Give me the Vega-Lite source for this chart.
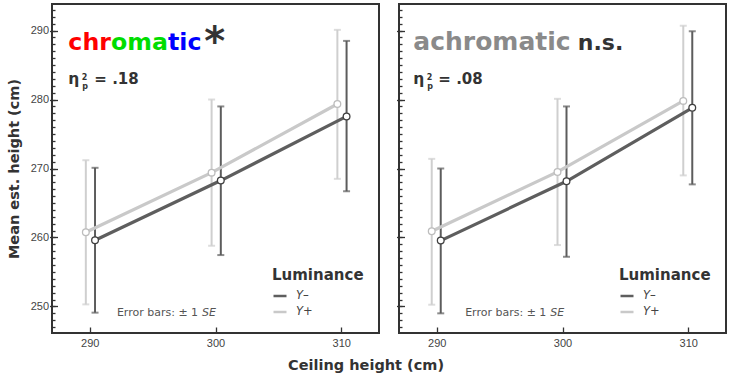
{
  "$schema": "https://vega.github.io/schema/vega-lite/v6.json",
  "background": "white",
  "padding": {"left": 5, "top": 3, "right": 4, "bottom": 4},
  "spacing": 14,
  "title": {"text": "Ceiling height (cm)", "orient": "bottom", "anchor": "middle", "font": "DejaVu Sans", "fontSize": 14.5, "fontWeight": "bold", "color": "#333", "offset": 10},
  "datasets": {
    "means": [
      {"panel": "chromatic", "lum": "Y–", "ceiling": 290, "mean": 259.6, "lo": 249.1, "hi": 270.1},
      {"panel": "chromatic", "lum": "Y–", "ceiling": 300, "mean": 268.25, "lo": 257.45, "hi": 279.0},
      {"panel": "chromatic", "lum": "Y–", "ceiling": 310, "mean": 277.55, "lo": 266.7, "hi": 288.5},
      {"panel": "chromatic", "lum": "Y+", "ceiling": 290, "mean": 260.75, "lo": 250.3, "hi": 271.2},
      {"panel": "chromatic", "lum": "Y+", "ceiling": 300, "mean": 269.4, "lo": 258.8, "hi": 280.0},
      {"panel": "chromatic", "lum": "Y+", "ceiling": 310, "mean": 279.35, "lo": 268.5, "hi": 290.1},
      {"panel": "achromatic", "lum": "Y–", "ceiling": 290, "mean": 259.55, "lo": 249.0, "hi": 270.0},
      {"panel": "achromatic", "lum": "Y–", "ceiling": 300, "mean": 268.15, "lo": 257.2, "hi": 279.0},
      {"panel": "achromatic", "lum": "Y–", "ceiling": 310, "mean": 278.8, "lo": 267.7, "hi": 289.9},
      {"panel": "achromatic", "lum": "Y+", "ceiling": 290, "mean": 260.9, "lo": 250.25, "hi": 271.4},
      {"panel": "achromatic", "lum": "Y+", "ceiling": 300, "mean": 269.5, "lo": 258.9, "hi": 280.1},
      {"panel": "achromatic", "lum": "Y+", "ceiling": 310, "mean": 279.8, "lo": 269.0, "hi": 290.7}
    ]
  },
  "hconcat": [
    {
      "width": 327,
      "height": 329,
      "data": {"name": "means"},
      "resolve": {"axis": {"y": "independent"}},
      "layer": [
        {
          "transform": [{"filter": "datum.panel === 'chromatic' && datum.lum === 'Y+'"}],
          "mark": {"type": "errorbar", "color": "#cfcfcf", "thickness": 2, "ticks": {"size": 7, "xOffset": -3.9}, "rule": {"xOffset": -3.9}},
          "encoding": {
            "x": {"field": "ceiling", "type": "quantitative", "title": null, "scale": {"domain": [287, 313], "nice": false, "zero": false}},
            "y": {"field": "lo", "type": "quantitative", "axis": null, "scale": {"domain": [246.15, 293.85], "nice": false, "zero": false}},
            "y2": {"field": "hi"}
          }
        },
        {
          "transform": [{"filter": "datum.panel === 'chromatic' && datum.lum === 'Y–'"}],
          "mark": {"type": "errorbar", "color": "#5c5c5c", "thickness": 2, "ticks": {"size": 7, "xOffset": 5.3}, "rule": {"xOffset": 5.3}},
          "encoding": {
            "x": {"field": "ceiling", "type": "quantitative", "title": null},
            "y": {"field": "lo", "type": "quantitative", "axis": null},
            "y2": {"field": "hi"}
          }
        },
        {
          "transform": [{"filter": "datum.panel === 'chromatic' && datum.lum === 'Y+'"}],
          "mark": {"type": "line", "strokeWidth": 3.2, "xOffset": -3.9},
          "encoding": {
            "x": {"field": "ceiling", "type": "quantitative", "title": null, "axis": {"values": [290, 300, 310], "tickSize": 6, "offset": -6, "labelPadding": 4}},
            "y": {"field": "mean", "type": "quantitative", "title": "Mean est. height (cm)", "axis": {
              "orient": "left", "titlePadding": 9,
              "values": [250, 260, 270, 280, 290],
              "tickSize": 8, "offset": -5.5, "labelPadding": 1
            }},
            "color": {"field": "lum", "type": "nominal", "scale": {"domain": ["Y–", "Y+"], "range": ["#5e5e5e", "#c9c9c9"]}, "legend": {"title": "Luminance"}}
          }
        },
        {
          "transform": [{"filter": "datum.panel === 'chromatic' && datum.lum === 'Y–'"}],
          "mark": {"type": "line", "strokeWidth": 3.2, "xOffset": 5.3},
          "encoding": {
            "x": {"field": "ceiling", "type": "quantitative", "title": null},
            "y": {"field": "mean", "type": "quantitative", "axis": {
              "orient": "left", "title": null, "labels": false,
              "values": [247,248,249,250,251,252,253,254,255,256,257,258,259,260,261,262,263,264,265,266,267,268,269,270,271,272,273,274,275,276,277,278,279,280,281,282,283,284,285,286,287,288,289,290,291,292,293],
              "tickSize": 3, "offset": -3
            }},
            "color": {"field": "lum", "type": "nominal"}
          }
        },
        {
          "transform": [{"filter": "datum.panel === 'chromatic' && datum.lum === 'Y+'"}],
          "mark": {"type": "point", "shape": "circle", "filled": true, "fill": "white", "stroke": "#bdbdbd", "strokeWidth": 1.3, "size": 45, "opacity": 1, "xOffset": -3.9},
          "encoding": {
            "x": {"field": "ceiling", "type": "quantitative", "title": null},
            "y": {"field": "mean", "type": "quantitative", "axis": null}
          }
        },
        {
          "transform": [{"filter": "datum.panel === 'chromatic' && datum.lum === 'Y–'"}],
          "mark": {"type": "point", "shape": "circle", "filled": true, "fill": "white", "stroke": "#404040", "strokeWidth": 1.3, "size": 45, "opacity": 1, "xOffset": 5.3},
          "encoding": {
            "x": {"field": "ceiling", "type": "quantitative", "title": null},
            "y": {"field": "mean", "type": "quantitative", "axis": null}
          }
        },
        {
          "data": {"values": [{}]},
          "mark": {"type": "text", "text": "chr", "font": "DejaVu Sans", "fontWeight": "bold", "fontSize": 23.7, "color": "#ff0000", "align": "left", "baseline": "alphabetic"},
          "encoding": {"x": {"datum": 288.3, "type": "quantitative", "title": null}, "y": {"datum": 287.2, "type": "quantitative", "axis": null}}
        },
        {
          "data": {"values": [{}]},
          "mark": {"type": "text", "text": "oma", "font": "DejaVu Sans", "fontWeight": "bold", "fontSize": 23.7, "color": "#00dd00", "align": "left", "baseline": "alphabetic", "dx": 42.6},
          "encoding": {"x": {"datum": 288.3, "type": "quantitative", "title": null}, "y": {"datum": 287.2, "type": "quantitative", "axis": null}}
        },
        {
          "data": {"values": [{}]},
          "mark": {"type": "text", "text": "tic", "font": "DejaVu Sans", "fontWeight": "bold", "fontSize": 23.7, "color": "#0000ff", "align": "left", "baseline": "alphabetic", "dx": 99.6},
          "encoding": {"x": {"datum": 288.3, "type": "quantitative", "title": null}, "y": {"datum": 287.2, "type": "quantitative", "axis": null}}
        },
        {
          "data": {"values": [{}]},
          "mark": {"type": "text", "text": "*", "font": "DejaVu Sans", "fontWeight": "bold", "fontSize": 40, "color": "#333333", "align": "left", "baseline": "alphabetic", "dx": 136, "dy": 5},
          "encoding": {"x": {"datum": 288.3, "type": "quantitative", "title": null}, "y": {"datum": 287.2, "type": "quantitative", "axis": null}}
        },
        {
          "data": {"values": [{}]},
          "mark": {"type": "text", "text": "η", "font": "DejaVu Sans", "fontWeight": "bold", "fontSize": 15.5, "color": "#333333", "align": "left", "baseline": "alphabetic"},
          "encoding": {"x": {"datum": 288.3, "type": "quantitative", "title": null}, "y": {"datum": 282.27, "type": "quantitative", "axis": null}}
        },
        {
          "data": {"values": [{}]},
          "mark": {"type": "text", "text": "2", "font": "DejaVu Sans", "fontWeight": "bold", "fontSize": 8, "color": "#333333", "align": "left", "baseline": "alphabetic", "dx": 13.3, "dy": -4.3},
          "encoding": {"x": {"datum": 288.3, "type": "quantitative", "title": null}, "y": {"datum": 282.27, "type": "quantitative", "axis": null}}
        },
        {
          "data": {"values": [{}]},
          "mark": {"type": "text", "text": "p", "font": "DejaVu Sans", "fontWeight": "bold", "fontSize": 8, "color": "#333333", "align": "left", "baseline": "alphabetic", "dx": 14, "dy": 5.5},
          "encoding": {"x": {"datum": 288.3, "type": "quantitative", "title": null}, "y": {"datum": 282.27, "type": "quantitative", "axis": null}}
        },
        {
          "data": {"values": [{}]},
          "mark": {"type": "text", "text": "= .18", "font": "DejaVu Sans", "fontWeight": "bold", "fontSize": 15, "color": "#333333", "align": "left", "baseline": "alphabetic", "dx": 26},
          "encoding": {"x": {"datum": 288.3, "type": "quantitative", "title": null}, "y": {"datum": 282.27, "type": "quantitative", "axis": null}}
        },
        {
          "data": {"values": [{}]},
          "mark": {"type": "text", "text": "Error bars: ± 1", "font": "DejaVu Sans", "fontSize": 11, "color": "#555555", "align": "left", "baseline": "middle"},
          "encoding": {"x": {"datum": 292.16, "type": "quantitative", "title": null}, "y": {"datum": 249.09, "type": "quantitative", "axis": null}}
        },
        {
          "data": {"values": [{}]},
          "mark": {"type": "text", "text": "SE", "font": "DejaVu Sans", "fontSize": 11, "fontStyle": "italic", "color": "#555555", "align": "left", "baseline": "middle", "dx": 85},
          "encoding": {"x": {"datum": 292.16, "type": "quantitative", "title": null}, "y": {"datum": 249.09, "type": "quantitative", "axis": null}}
        }
      ]
    },
    {
      "width": 327,
      "height": 329,
      "data": {"name": "means"},
      "resolve": {"axis": {"y": "independent"}},
      "layer": [
        {
          "transform": [{"filter": "datum.panel === 'achromatic' && datum.lum === 'Y+'"}],
          "mark": {"type": "errorbar", "color": "#cfcfcf", "thickness": 2, "ticks": {"size": 7, "xOffset": -5}, "rule": {"xOffset": -5}},
          "encoding": {
            "x": {"field": "ceiling", "type": "quantitative", "title": null, "scale": {"domain": [287, 313], "nice": false, "zero": false}},
            "y": {"field": "lo", "type": "quantitative", "axis": null, "scale": {"domain": [246.15, 293.85], "nice": false, "zero": false}},
            "y2": {"field": "hi"}
          }
        },
        {
          "transform": [{"filter": "datum.panel === 'achromatic' && datum.lum === 'Y–'"}],
          "mark": {"type": "errorbar", "color": "#5c5c5c", "thickness": 2, "ticks": {"size": 7, "xOffset": 4}, "rule": {"xOffset": 4}},
          "encoding": {
            "x": {"field": "ceiling", "type": "quantitative", "title": null},
            "y": {"field": "lo", "type": "quantitative", "axis": null},
            "y2": {"field": "hi"}
          }
        },
        {
          "transform": [{"filter": "datum.panel === 'achromatic' && datum.lum === 'Y+'"}],
          "mark": {"type": "line", "strokeWidth": 3.2, "xOffset": -5},
          "encoding": {
            "x": {"field": "ceiling", "type": "quantitative", "title": null, "axis": {"values": [290, 300, 310], "tickSize": 6, "offset": -6, "labelPadding": 4}},
            "y": {"field": "mean", "type": "quantitative", "title": null, "axis": {
              "orient": "left", "labels": false,
              "values": [250, 260, 270, 280, 290],
              "tickSize": 8, "offset": -5.5
            }},
            "color": {"field": "lum", "type": "nominal", "scale": {"domain": ["Y–", "Y+"], "range": ["#5e5e5e", "#c9c9c9"]}, "legend": {"title": "Luminance"}}
          }
        },
        {
          "transform": [{"filter": "datum.panel === 'achromatic' && datum.lum === 'Y–'"}],
          "mark": {"type": "line", "strokeWidth": 3.2, "xOffset": 4},
          "encoding": {
            "x": {"field": "ceiling", "type": "quantitative", "title": null},
            "y": {"field": "mean", "type": "quantitative", "axis": {
              "orient": "left", "title": null, "labels": false,
              "values": [247,248,249,250,251,252,253,254,255,256,257,258,259,260,261,262,263,264,265,266,267,268,269,270,271,272,273,274,275,276,277,278,279,280,281,282,283,284,285,286,287,288,289,290,291,292,293],
              "tickSize": 3, "offset": -3
            }},
            "color": {"field": "lum", "type": "nominal"}
          }
        },
        {
          "transform": [{"filter": "datum.panel === 'achromatic' && datum.lum === 'Y+'"}],
          "mark": {"type": "point", "shape": "circle", "filled": true, "fill": "white", "stroke": "#bdbdbd", "strokeWidth": 1.3, "size": 45, "opacity": 1, "xOffset": -5},
          "encoding": {
            "x": {"field": "ceiling", "type": "quantitative", "title": null},
            "y": {"field": "mean", "type": "quantitative", "axis": null}
          }
        },
        {
          "transform": [{"filter": "datum.panel === 'achromatic' && datum.lum === 'Y–'"}],
          "mark": {"type": "point", "shape": "circle", "filled": true, "fill": "white", "stroke": "#404040", "strokeWidth": 1.3, "size": 45, "opacity": 1, "xOffset": 4},
          "encoding": {
            "x": {"field": "ceiling", "type": "quantitative", "title": null},
            "y": {"field": "mean", "type": "quantitative", "axis": null}
          }
        },
        {
          "data": {"values": [{}]},
          "mark": {"type": "text", "text": "achromatic", "font": "DejaVu Sans", "fontWeight": "bold", "fontSize": 25, "color": "#8a8a8a", "align": "left", "baseline": "alphabetic"},
          "encoding": {"x": {"datum": 288.14, "type": "quantitative", "title": null}, "y": {"datum": 287.2, "type": "quantitative", "axis": null}}
        },
        {
          "data": {"values": [{}]},
          "mark": {"type": "text", "text": "n.s.", "font": "DejaVu Sans", "fontWeight": "bold", "fontSize": 22, "color": "#333333", "align": "left", "baseline": "alphabetic", "dx": 164.5},
          "encoding": {"x": {"datum": 288.14, "type": "quantitative", "title": null}, "y": {"datum": 287.2, "type": "quantitative", "axis": null}}
        },
        {
          "data": {"values": [{}]},
          "mark": {"type": "text", "text": "η", "font": "DejaVu Sans", "fontWeight": "bold", "fontSize": 15.5, "color": "#333333", "align": "left", "baseline": "alphabetic"},
          "encoding": {"x": {"datum": 288.14, "type": "quantitative", "title": null}, "y": {"datum": 282.27, "type": "quantitative", "axis": null}}
        },
        {
          "data": {"values": [{}]},
          "mark": {"type": "text", "text": "2", "font": "DejaVu Sans", "fontWeight": "bold", "fontSize": 8, "color": "#333333", "align": "left", "baseline": "alphabetic", "dx": 13.3, "dy": -4.3},
          "encoding": {"x": {"datum": 288.14, "type": "quantitative", "title": null}, "y": {"datum": 282.27, "type": "quantitative", "axis": null}}
        },
        {
          "data": {"values": [{}]},
          "mark": {"type": "text", "text": "p", "font": "DejaVu Sans", "fontWeight": "bold", "fontSize": 8, "color": "#333333", "align": "left", "baseline": "alphabetic", "dx": 14, "dy": 5.5},
          "encoding": {"x": {"datum": 288.14, "type": "quantitative", "title": null}, "y": {"datum": 282.27, "type": "quantitative", "axis": null}}
        },
        {
          "data": {"values": [{}]},
          "mark": {"type": "text", "text": "= .08", "font": "DejaVu Sans", "fontWeight": "bold", "fontSize": 15, "color": "#333333", "align": "left", "baseline": "alphabetic", "dx": 25},
          "encoding": {"x": {"datum": 288.14, "type": "quantitative", "title": null}, "y": {"datum": 282.27, "type": "quantitative", "axis": null}}
        },
        {
          "data": {"values": [{}]},
          "mark": {"type": "text", "text": "Error bars: ± 1", "font": "DejaVu Sans", "fontSize": 11, "color": "#555555", "align": "left", "baseline": "middle"},
          "encoding": {"x": {"datum": 292.26, "type": "quantitative", "title": null}, "y": {"datum": 249.09, "type": "quantitative", "axis": null}}
        },
        {
          "data": {"values": [{}]},
          "mark": {"type": "text", "text": "SE", "font": "DejaVu Sans", "fontSize": 11, "fontStyle": "italic", "color": "#555555", "align": "left", "baseline": "middle", "dx": 85},
          "encoding": {"x": {"datum": 292.26, "type": "quantitative", "title": null}, "y": {"datum": 249.09, "type": "quantitative", "axis": null}}
        }
      ]
    }
  ],
  "resolve": {"scale": {"color": "independent"}, "legend": {"color": "independent"}},
  "config": {
    "view": {"stroke": "#333333", "strokeWidth": 2},
    "axis": {
      "domain": false,
      "grid": false,
      "labelFont": "Liberation Sans",
      "labelFontSize": 11,
      "labelColor": "#444444",
      "tickColor": "#333333",
      "tickWidth": 1.3,
      "titleFont": "DejaVu Sans",
      "titleFontSize": 14.5,
      "titleFontWeight": "bold",
      "titleColor": "#333333"
    },
    "legend": {
      "orient": "bottom-right",
      "offset": 15,
      "padding": 0,
      "titleFont": "DejaVu Sans",
      "titleFontSize": 15,
      "titleFontWeight": "bold",
      "titleColor": "#333333",
      "titlePadding": 5,
      "labelFont": "DejaVu Sans",
      "labelFontSize": 11.5,
      "labelFontStyle": "italic",
      "labelColor": "#444444",
      "labelOffset": 8,
      "symbolType": "stroke",
      "symbolSize": 169,
      "symbolStrokeWidth": 2.5,
      "rowPadding": 2
    }
  }
}
